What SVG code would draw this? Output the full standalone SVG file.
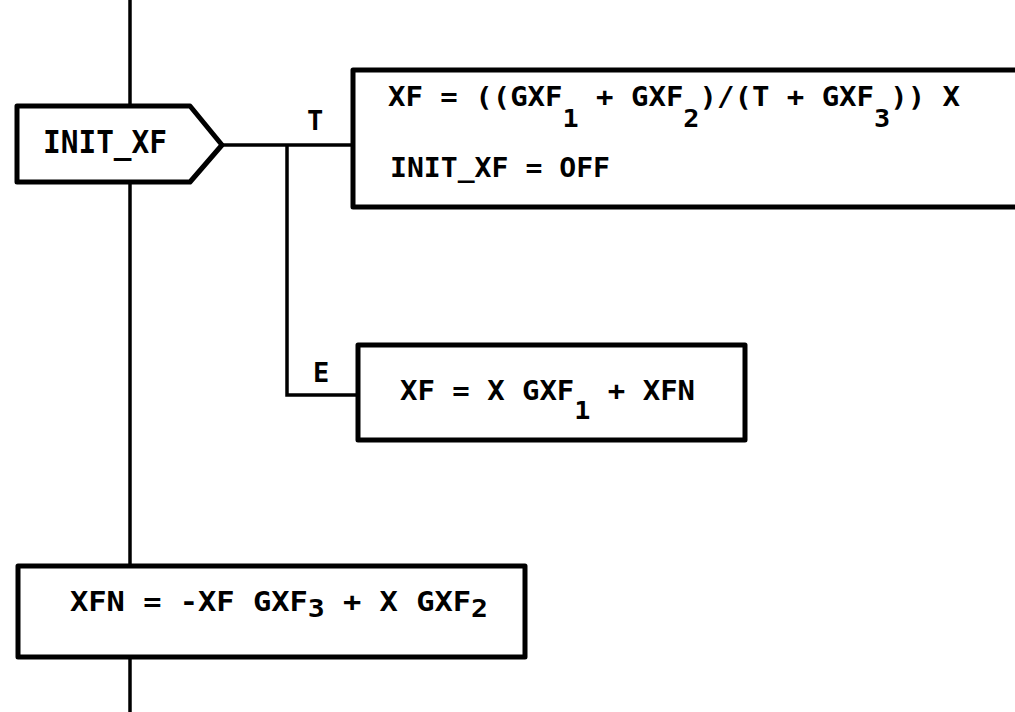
<svg xmlns="http://www.w3.org/2000/svg" width="1015" height="712" viewBox="0 0 1015 712">
<style>
.box{fill:#fff;stroke:#000;stroke-width:5;stroke-linejoin:round}
.ln{fill:none;stroke:#000;stroke-width:3.5;stroke-linecap:butt;stroke-linejoin:miter}
.t{font-family:"DejaVu Sans Mono","Liberation Mono",monospace;font-size:27px;font-weight:bold;fill:#000}
.big{font-family:"DejaVu Sans Mono","Liberation Mono",monospace;font-size:32px;font-weight:bold;fill:#000}
.sub{font-size:25px}
</style>
<rect width="1015" height="712" fill="#fff"/>
<g id="connectors">
<line class="ln" x1="130" y1="0" x2="130" y2="106"/>
<line class="ln" x1="130" y1="182" x2="130" y2="567"/>
<line class="ln" x1="130" y1="657" x2="130" y2="712"/>
<polyline class="ln" points="222,145 354,145"/>
<polyline class="ln" points="287,145 287,395 358,395"/>
<text class="t" x="307" y="130" font-size="30">T</text>
<text class="t" x="313" y="382" font-size="28">E</text>
</g>
<g id="init_xf">
<polygon class="box" points="17,106 190,106 222,145 190,182 17,182"/>
<text class="big" x="43" y="153" textLength="124" lengthAdjust="spacingAndGlyphs">INIT_XF</text>
</g>
<g id="true_box">
<rect class="box" x="353" y="70" width="700" height="137"/>
<text class="t" x="388" y="106" textLength="572" lengthAdjust="spacingAndGlyphs">XF = ((GXF<tspan class="sub" dy="21">1</tspan><tspan dy="-21"> + GXF</tspan><tspan class="sub" dy="21">2</tspan><tspan dy="-21">)/(T + GXF</tspan><tspan class="sub" dy="21">3</tspan><tspan dy="-21">)) X</tspan></text>
<text class="t" x="390" y="177" textLength="220" lengthAdjust="spacingAndGlyphs">INIT_XF = OFF</text>
</g>
<g id="else_box">
<rect class="box" x="358" y="345" width="387" height="95"/>
<text class="t" x="400" y="400" textLength="295" lengthAdjust="spacingAndGlyphs">XF = X GXF<tspan class="sub" dy="19">1</tspan><tspan dy="-19"> + XFN</tspan></text>
</g>
<g id="xfn_box">
<rect class="box" x="18" y="566" width="507" height="91"/>
<text class="t" x="70" y="611" textLength="418" lengthAdjust="spacingAndGlyphs">XFN = -XF GXF<tspan class="sub" dy="6">3</tspan><tspan dy="-6"> + X GXF</tspan><tspan class="sub" dy="6">2</tspan></text>
</g>
</svg>
